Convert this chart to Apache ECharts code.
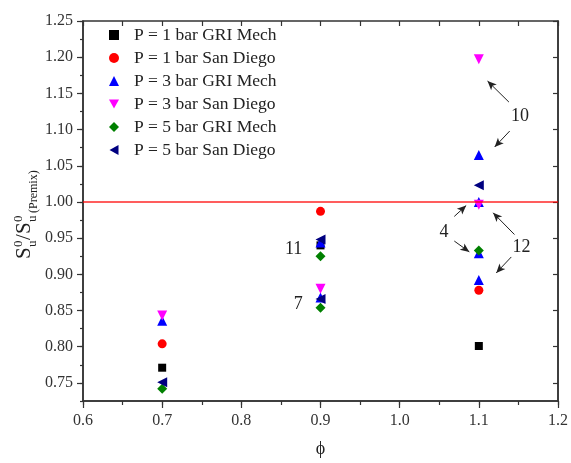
<!DOCTYPE html>
<html>
<head>
<meta charset="utf-8">
<script src="https://cdn.jsdelivr.net/npm/echarts@6/dist/echarts.min.js"></script>
<style>
  html, body { margin: 0; padding: 0; background: #fff; }
  #chart { width: 571px; height: 463px; }
</style>
</head>
<body>
<div id="chart"></div>
<script>
// series: [phi, Su0/Su0(Premix)]
const seriesNames = [
  "P = 1 bar GRI Mech", "P = 1 bar San Diego", "P = 3 bar GRI Mech",
  "P = 3 bar San Diego", "P = 5 bar GRI Mech", "P = 5 bar San Diego"
];
const p1Gri = [[0.7, 0.771], [0.9, 0.940], [1.1, 0.801]];
const p1SanDiego = [[0.7, 0.804], [0.9, 0.987], [1.1, 0.878]];
const p3Gri = [[0.7, 0.836], [0.9, 0.944], [0.9, 0.868], [1.1, 1.065], [1.1, 1.000], [1.1, 0.929], [1.1, 0.892]];
const p3SanDiego = [[0.7, 0.843], [0.9, 0.880], [1.1, 1.197], [1.1, 0.996]];
const p5Gri = [[0.7, 0.742], [0.9, 0.925], [0.9, 0.854], [1.1, 0.933]];
const p5SanDiego = [[0.7, 0.751], [0.9, 0.948], [0.9, 0.866], [1.1, 1.023]];

const yTicks = [0.75, 0.80, 0.85, 0.90, 0.95, 1.00, 1.05, 1.10, 1.15, 1.20, 1.25];
const refRatio = 1.0;

// annotation arrows [from, to] and labels, in data units
const arrows = [
  [[1.138, 1.138], [1.111, 1.167]],
  [[1.139, 1.098], [1.120, 1.076]],
  [[1.069, 0.980], [1.084, 0.995]],
  [[1.069, 0.946], [1.088, 0.931]],
  [[1.145, 0.955], [1.118, 0.985]],
  [[1.141, 0.924], [1.122, 0.902]]
];
const notes = [
  ["10", 1.152, 1.118],
  ["4", 1.056, 0.958],
  ["12", 1.154, 0.937],
  ["11", 0.866, 0.934],
  ["7", 0.872, 0.858]
];

const serif = '"Liberation Serif", "DejaVu Serif", serif';
const ink = "#333";

const chart = echarts.init(document.getElementById("chart"));

const downTri = "path://M0,0 L10,0 L5,9 Z";
const leftTri = "path://M9,0 L9,10 L0,5 Z";

const styles = [
  {data: p1Gri, color: "#000000", symbol: "rect", size: 8},
  {data: p1SanDiego, color: "#ff0000", symbol: "circle", size: 9},
  {data: p3Gri, color: "#0000ff", symbol: "triangle", size: 10},
  {data: p3SanDiego, color: "#ff00ff", symbol: downTri, size: 10},
  {data: p5Gri, color: "#008000", symbol: "diamond", size: 10},
  {data: p5SanDiego, color: "#000080", symbol: leftTri, size: 10}
];

const series = styles.map((s, i) => ({
  name: seriesNames[i],
  type: "scatter",
  data: s.data,
  symbol: s.symbol,
  symbolSize: s.size,
  itemStyle: {color: s.color, opacity: 1},
  z: 3
}));

series.push({
  name: "refLine",
  type: "scatter",
  data: [],
  silent: true,
  markLine: {
    silent: true,
    animation: false,
    symbol: ["none", "none"],
    label: {show: false},
    lineStyle: {color: "#ff0000", width: 1.6, type: "solid", opacity: 0.85},
    data: [{yAxis: refRatio}]
  },
  z: 2
});

series.push({
  name: "arrows",
  type: "scatter",
  data: [],
  silent: true,
  markLine: {
    silent: true,
    animation: false,
    symbol: ["none", "arrow"],
    symbolSize: [6, 9],
    label: {show: false},
    lineStyle: {color: "#222", width: 1, type: "solid"},
    data: arrows.map(a => [{coord: a[0]}, {coord: a[1]}])
  },
  markPoint: {
    silent: true,
    animation: false,
    symbol: "circle",
    symbolSize: 0,
    label: {
      show: true, position: "inside", formatter: p => p.name,
      fontFamily: serif, fontSize: 18, color: "#222"
    },
    data: notes.map(n => ({name: n[0], coord: [n[1], n[2]]}))
  }
});

const xMinor = 0.05;
const yMinor = 0.025;

const option = {
  animation: false,
  backgroundColor: "#fff",
  grid: {left: 83, right: 12, top: 21, bottom: 61, show: true, borderColor: ink, borderWidth: 1.5, backgroundColor: "transparent"},
  legend: {
    data: seriesNames,
    orient: "vertical",
    left: 104,
    top: 21,
    itemWidth: 10,
    itemHeight: 10,
    itemGap: 5,
    textStyle: {fontFamily: serif, fontSize: 17.5, color: "#222", lineHeight: 16, padding: [0, 0, 0, 10]}
  },
  xAxis: [{
    type: "value", position: "bottom",
    min: 0.6, max: 1.2, interval: 0.1,
    name: "ϕ", nameLocation: "middle", nameGap: 39,
    nameTextStyle: {fontFamily: serif, fontSize: 18, color: "#222"},
    axisLine: {show: true, onZero: false, lineStyle: {color: ink, width: 1.5}},
    axisTick: {show: true, inside: false, length: 7, lineStyle: {color: ink, width: 1.2}},
    axisLabel: {fontFamily: serif, fontSize: 16, color: ink, margin: 12, formatter: v => v.toFixed(1)},
    splitLine: {show: false}
  }, {
    type: "value", position: "bottom",
    min: 0.6, max: 1.2, interval: xMinor,
    axisLine: {show: false, onZero: false},
    axisTick: {show: true, inside: false, length: 4, lineStyle: {color: ink, width: 1.2}},
    axisLabel: {show: false},
    splitLine: {show: false}
  }, {
    type: "value", position: "top",
    min: 0.6, max: 1.2, interval: xMinor,
    axisLine: {show: false, onZero: false},
    axisTick: {show: true, inside: true, length: 5, lineStyle: {color: ink, width: 1.2}},
    axisLabel: {show: false},
    splitLine: {show: false}
  }],
  yAxis: [{
    type: "value", position: "left",
    min: 0.725, max: 1.25,
    axisLine: {show: true, onZero: false, lineStyle: {color: ink, width: 1.5}},
    axisTick: {show: true, inside: false, length: 6, customValues: yTicks, lineStyle: {color: ink, width: 1.2}},
    axisLabel: {fontFamily: serif, fontSize: 16, color: ink, margin: 10, customValues: yTicks, formatter: v => v.toFixed(2)},
    splitLine: {show: false}
  }, {
    type: "value", position: "left",
    min: 0.725, max: 1.25, interval: yMinor,
    axisLine: {show: false, onZero: false},
    axisTick: {show: true, inside: false, length: 3, lineStyle: {color: ink, width: 1.2}},
    axisLabel: {show: false},
    splitLine: {show: false}
  }, {
    type: "value", position: "right",
    min: 0.725, max: 1.25,
    axisLine: {show: true, onZero: false, lineStyle: {color: ink, width: 1.5}},
    axisTick: {show: true, inside: true, length: 5, customValues: yTicks, lineStyle: {color: ink, width: 1.2}},
    axisLabel: {show: false},
    splitLine: {show: false}
  }],
  graphic: [{
    type: "group",
    x: 35, y: 259,
    rotation: Math.PI / 2,
    children: [
      {type: "text", x: 0, y: 0, style: {text: "S", font: '21px ' + serif, fill: "#222", verticalAlign: "bottom"}},
      {type: "text", x: 12, y: -10, style: {text: "0", font: '13px ' + serif, fill: "#222", verticalAlign: "bottom"}},
      {type: "text", x: 12, y: 4, style: {text: "u", font: '13px ' + serif, fill: "#222", verticalAlign: "bottom"}},
      {type: "text", x: 19, y: 0, style: {text: "/", font: '21px ' + serif, fill: "#222", verticalAlign: "bottom"}},
      {type: "text", x: 25, y: 0, style: {text: "S", font: '21px ' + serif, fill: "#222", verticalAlign: "bottom"}},
      {type: "text", x: 37, y: -10, style: {text: "0", font: '13px ' + serif, fill: "#222", verticalAlign: "bottom"}},
      {type: "text", x: 37, y: 4, style: {text: "u", font: '13px ' + serif, fill: "#222", verticalAlign: "bottom"}},
      {type: "text", x: 46, y: 5, style: {text: "(Premix)", font: '12px ' + serif, fill: "#222", verticalAlign: "bottom"}}
    ]
  }],
  series: series
};

chart.setOption(option);
</script>
</body>
</html>
